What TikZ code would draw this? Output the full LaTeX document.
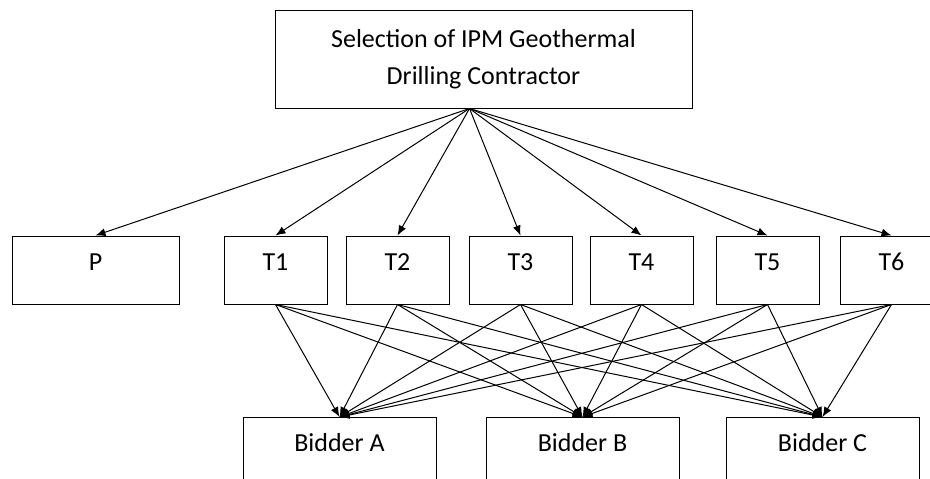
\documentclass[tikz,border=0pt]{standalone}
\usepackage{fontspec}
\setmainfont{Carlito}
\usepackage{tikz}
\usetikzlibrary{shapes,arrows.meta,positioning,calc}
\tikzstyle{goal} = [rectangle, draw=black, line width=1pt, fill=white, text=black, align=center, font=\fontsize{26}{37}\selectfont, minimum width=417pt, minimum height=98pt, inner sep=0pt]
\tikzstyle{crit} = [rectangle, draw=black, line width=1pt, fill=white, text=black, text centered, font=\fontsize{26}{31}\selectfont, minimum width=103pt, minimum height=68pt, inner sep=0pt, text height=10pt, text depth=10pt]
\tikzstyle{bidder} = [rectangle, draw=black, line width=1pt, fill=white, text=black, text centered, font=\fontsize{26}{31}\selectfont, minimum width=193pt, minimum height=80pt, inner sep=0pt, text height=10pt, text depth=23pt]
\tikzstyle{tedge}  = [draw, line width=1pt, >={Latex[length=10pt,width=8pt]}, ->]

\begin{document}
\begin{tikzpicture}[auto]
\useasboundingbox (0,0) rectangle (930pt,-479pt);

% criteria =============================
\node[goal] (sel) at (483.5pt,-59pt) {Selection of IPM Geothermal\\Drilling Contractor};
\node[crit, minimum width=167pt] (p) at (95.5pt,-270pt) {P};
\node[crit, right=44pt of p] (t1) {T1};
\node[crit, right=18pt of t1] (t2) {T2};
\node[crit, right=19pt of t2] (t3) {T3};
\node[crit, right=17pt of t3] (t4) {T4};
\node[crit, right=22pt of t4] (t5) {T5};
\node[crit, right=20pt of t5] (t6) {T6};
\coordinate (hub) at ($(sel.south)+(-14pt,0)$);

% bidders
\node[bidder, anchor=north] (ba) at (339.5pt,-417pt) {Bidder A};
\node[bidder, right=49pt of ba] (bb) {Bidder B};
\node[bidder, right=46pt of bb] (bc) {Bidder C};

% edges
\foreach \c in {p,t1,t2,t3,t4,t5,t6}
  \path[tedge] (hub) -- (\c.north);
\foreach \t in {t1,t2,t3,t4,t5,t6}
  \foreach \b in {ba,bb,bc}
    \path[tedge] (\t.south) -- (\b.north);

\end{tikzpicture}
\end{document}
